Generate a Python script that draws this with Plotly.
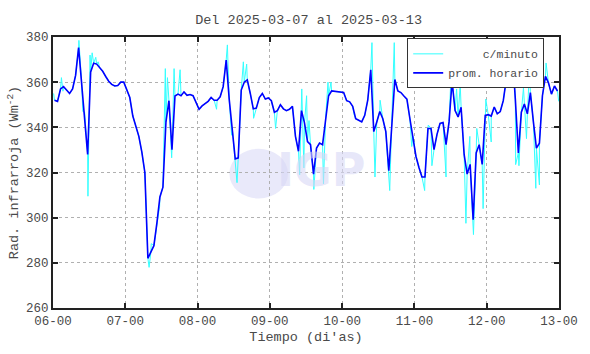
import plotly.graph_objects as go

# Hourly averages (prom. horario), one list per day, values in W m^-2
day06 = [352, 351.5, 357, 358, 356.5, 355, 357, 363, 375.3, 360, 346.7, 328,
         364.5, 368.4, 368, 366.5, 364.8, 362.5, 360.4, 359, 358.3, 358.5, 360, 360]
day07 = [357, 353.2, 345, 340, 336, 329, 320, 282, 284.7, 287.6, 297.7, 309.2,
         313.5, 342.4, 351.8, 330.1, 353.9, 354.7, 354, 355.7, 354.2, 354.5, 354, 351]
day08 = [348, 349.5, 350.5, 351.5, 353.2, 352, 352, 353.5, 358, 369.8, 352.5, 340,
         326, 326.5, 356.5, 360, 361, 355, 348.2, 348.5, 353.2, 355, 352.5, 353]
day09 = [351.8, 346.7, 347.4, 350, 348.2, 347.4, 348, 349.3, 336, 329.4, 347.4, 342,
         333.7, 332.3, 319.3, 330.8, 333, 332.3, 343.8, 354, 356.1, 355.9, 355.8, 355.7]
day10 = [355.4, 351.8, 351.3, 349.3, 343.8, 343.1, 342.4, 345.3, 352, 365.5, 338.1, 342.4,
         347, 343.8, 338.1, 320.8, 343.8, 361.2, 356.1, 355.4, 353.9, 352.5, 343.8, 336]
day11 = [327.2, 322.2, 318, 318, 339.5, 339.5, 330.1, 336.9, 341.7, 342.1, 332.3, 342.4,
         360.4, 347.4, 344.6, 348.9, 328, 319.3, 323.6, 299.1, 328.7, 332.3, 323.6, 345.3]
day12 = [345.6, 345, 349, 346, 347, 351.8, 361.2, 366.9, 373.4, 352.5, 328.7, 346.7,
         350.3, 346, 355.4, 342.4, 330.8, 333, 354, 362.6, 359.7, 354.7, 358.3, 356.1]

# Per-minute excursions (hours since 06-00) that stick out of the hourly curve
spike_hours = [0.2, 2.8, 3.3, 8.6, 9.9, 10.8, 11.6, 12.3, 13.0, 14.2, 15.0,
               31.9, 32.6, 35.4, 36.2, 37.3, 38.0, 39.4, 40.2, 42.2,
               54.3, 57.9, 59.3, 61.1, 63.2, 64.3, 66.6,
               73.9, 81.9, 82.6, 83.3, 84.2, 85.0, 86.6, 89.8, 91.3, 92.3,
               100.0, 105.9, 106.9, 108.6, 111.8, 113.3, 119.1,
               123.4, 124.6, 125.8, 130.5, 132.3, 134.0, 135.2, 137.1, 138.4, 139.6, 140.7, 142.8, 143.7,
               145.5, 152.2, 153.6, 154.7, 156.2, 157.2, 158.2, 160.3, 161.5, 163.7, 167.9]
spike_vals = [355, 362, 356, 378.5, 347, 340, 309.5, 372, 373, 371, 369,
              278, 288.5, 305, 313, 366, 362, 326.5, 366, 365.5,
              348, 376.5, 336.5, 315.5, 369, 368, 344,
              339.5, 319, 357, 322, 354, 343, 312.5, 315, 360, 360,
              345.5, 377.5, 318, 352, 312, 377.5, 331.5,
              312, 341, 323, 318, 368, 357, 359, 297.5, 336, 292.5, 339.5, 304, 352.5,
              333.5, 377, 323.5, 323, 357.5, 335, 365.5, 313, 314.5, 368.5, 351.5]

tick_days = [6, 7, 8, 9, 10, 11, 12, 13]
tick_labels = ["06-00", "07-00", "08-00", "09-00", "10-00", "11-00", "12-00", "13-00"]
y_ticks = [260, 280, 300, 320, 340, 360, 380]

hourly = day06 + day07 + day08 + day09 + day10 + day11 + day12
hour_x = [6 + (i + 0.5) / 24 for i in range(len(hourly))]

pts = list(zip(hour_x, hourly)) + [(6 + h / 24, v) for h, v in zip(spike_hours, spike_vals)]
pts.sort()
cyan_x = [p[0] for p in pts]
cyan_y = [p[1] for p in pts]

FONT = "Liberation Mono"
TXT = "#4a4a4a"
fig = go.Figure()
fig.add_trace(go.Scatter(x=cyan_x, y=cyan_y, mode="lines", name="\u00a0\u00a0\u00a0\u00a0\u00a0c/minuto",
                         line=dict(color="#33ffff", width=1)))
fig.add_trace(go.Scatter(x=hour_x, y=hourly, mode="lines", name="prom. horario",
                         line=dict(color="#0000ff", width=1.6)))

# faint IGP watermark
fig.add_shape(type="circle", xref="x", yref="y", x0=8.44, x1=9.25, y0=308.5, y1=330.5,
              fillcolor="rgba(215,215,245,0.55)", line=dict(width=0), layer="below")
fig.add_annotation(x=9.72, y=321, xref="x", yref="y", text="<b>IGP</b>", showarrow=False,
                   font=dict(family="DejaVu Sans", size=46, color="rgba(215,215,245,0.6)"))

axis_common = dict(showline=True, linecolor="#222", linewidth=2, mirror="allticks",
                   ticks="inside", ticklen=5, tickwidth=1.5, tickcolor="#222",
                   showgrid=True, gridcolor="#b0b0b0", griddash="dot", gridwidth=1,
                   zeroline=False, tickfont=dict(family=FONT, size=12.5, color=TXT))

fig.update_layout(
    width=590, height=354,
    margin=dict(l=53, r=26, t=37, b=40),
    paper_bgcolor="white", plot_bgcolor="white",
    title=dict(text="Del 2025-03-07 al 2025-03-13", x=0.523, xanchor="center", y=0.945, yanchor="middle",
               font=dict(family=FONT, size=13.5, color=TXT)),
    legend=dict(x=0.70, y=0.995, xanchor="left", yanchor="top", bgcolor="white",
                bordercolor="#333", borderwidth=1, font=dict(family=FONT, size=11.5, color=TXT),
                tracegroupgap=0, itemwidth=30),
    showlegend=True,
)
fig.update_xaxes(range=[6, 13], tickvals=tick_days, ticktext=tick_labels,
                 title=dict(text="Tiempo (di'as)", font=dict(family=FONT, size=13.5, color=TXT), standoff=4),
                 **axis_common)
fig.update_yaxes(range=[260, 380], tickvals=y_ticks,
                 title=dict(text="Rad. infrarroja (Wm<sup>-2</sup>)", font=dict(family=FONT, size=13.5, color=TXT), standoff=4),
                 **axis_common)

fig.write_html("out.html")
